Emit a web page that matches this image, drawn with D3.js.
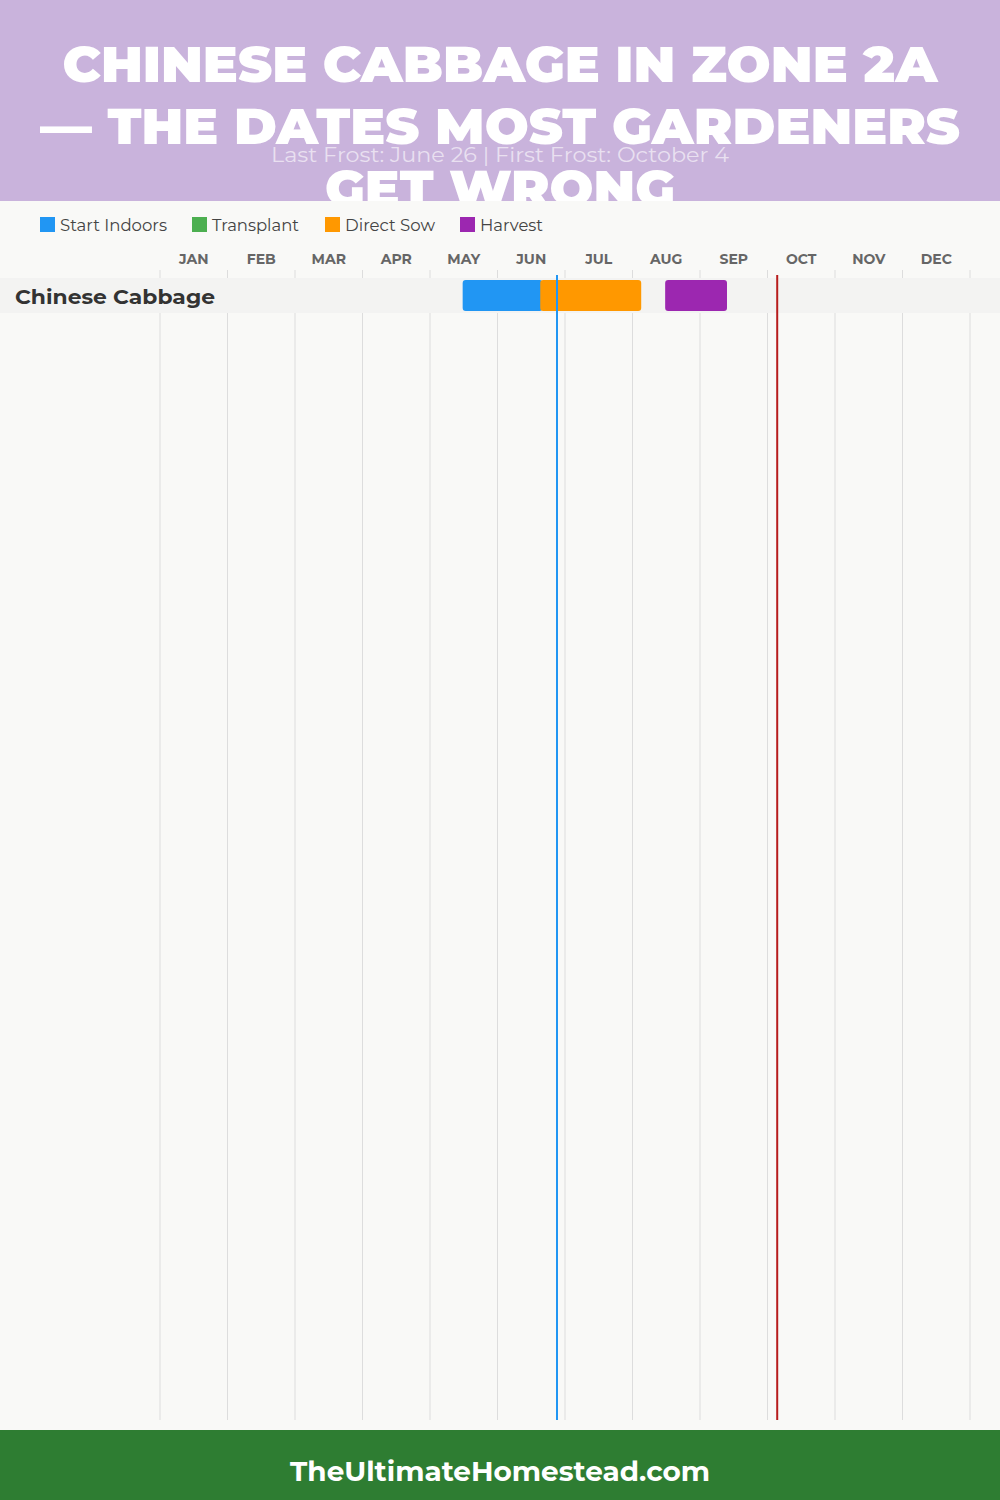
<!DOCTYPE html>
<html><head><meta charset="utf-8">
<script src="https://cdn.jsdelivr.net/npm/d3@7"></script>
<style>html,body{margin:0;padding:0;background:#f9f9f7}svg{display:block}</style>
</head><body><svg id="c" width="1000" height="1500"></svg>
<script>
const titleLines = ["CHINESE CABBAGE IN ZONE 2A", "— THE DATES MOST GARDENERS", "GET WRONG"];
const subtitle = "Last Frost: June 26 | First Frost: October 4";
const months = ["JAN","FEB","MAR","APR","MAY","JUN","JUL","AUG","SEP","OCT","NOV","DEC"];
const daysInMonth = [31,28,31,30,31,30,31,31,30,31,30,31];
const crops = ["Chinese Cabbage"];
const legendItems = ["Start Indoors","Transplant","Direct Sow","Harvest"];
const legendColors = ["#2196F3","#4CAF50","#FF9800","#9C27B0"];
// [crop, phase, start [month,day], end [month,day]]
const tasks = [
  ["Chinese Cabbage","Start Indoors",[5,15],[6,20]],
  ["Chinese Cabbage","Direct Sow",[6,19],[8,4]],
  ["Chinese Cabbage","Harvest",[8,15],[9,12]]
];
const lastFrost = [6,26];
const firstFrost = [10,4];
const footer = "TheUltimateHomestead.com";

const svg = d3.select("#c");
const W = 1000, H = 1500;
const toM = d => (d[0]-1) + d[1]/daysInMonth[d[0]-1];
const x = d3.scaleLinear().domain([0,12]).range([160,970]);
const y = d3.scaleBand().domain(crops).range([278,313]);
const color = d3.scaleOrdinal().domain(legendItems).range(legendColors);
const font = "Montserrat, 'DejaVu Sans', sans-serif";

svg.append("rect").attr("width",W).attr("height",H).attr("fill","#f9f9f7");

// header
const header = svg.append("g");
header.append("rect").attr("width",W).attr("height",201).attr("fill","#C9B3DC");
const tl = [[82,875],[144,920],[206,350]];
header.selectAll("text.t").data(titleLines).join("text").attr("class","t")
  .attr("x",500).attr("y",(d,i)=>tl[i][0]).attr("text-anchor","middle")
  .attr("font-family",font).attr("font-weight",900).attr("font-size",50)
  .attr("fill","#fff").attr("textLength",(d,i)=>tl[i][1]).attr("lengthAdjust","spacingAndGlyphs")
  .text(d=>d);
header.append("text").attr("x",500).attr("y",162).attr("text-anchor","middle")
  .attr("font-family",font).attr("font-size",20).attr("fill","#fff").attr("fill-opacity",0.6)
  .attr("textLength",458).attr("lengthAdjust","spacingAndGlyphs").text(subtitle);

// chart area background (covers title overflow)
svg.append("rect").attr("y",201).attr("width",W).attr("height",1229).attr("fill","#f9f9f7");

// legend
const legX = [40,192,325,460], legW=[107,87,90,63];
const lg = svg.append("g").selectAll("g").data(legendItems).join("g")
  .attr("transform",(d,i)=>`translate(${legX[i]},217)`);
lg.append("rect").attr("width",15).attr("height",15).attr("fill",d=>color(d));
lg.append("text").attr("x",20).attr("y",13.5).attr("font-family",font).attr("font-size",16)
  .attr("fill","#444").attr("textLength",(d,i)=>legW[i]).attr("lengthAdjust","spacingAndGlyphs").text(d=>d);

// grid lines
svg.append("g").selectAll("line").data(d3.range(13)).join("line")
  .attr("x1",d=>x(d)).attr("x2",d=>x(d)).attr("y1",270).attr("y2",1420)
  .attr("stroke","#ddd").attr("stroke-width",1);

// month labels
svg.append("g").selectAll("text").data(months).join("text")
  .attr("x",(d,i)=>x(i+0.5)).attr("y",264).attr("text-anchor","middle")
  .attr("font-family",font).attr("font-weight",700).attr("font-size",14).attr("fill","#666")
  .text(d=>d);

// row band
svg.append("g").selectAll("rect").data(crops).join("rect")
  .attr("x",0).attr("width",W).attr("y",d=>y(d)).attr("height",y.bandwidth()).attr("fill","#f3f3f2");
svg.append("g").selectAll("text").data(crops).join("text")
  .attr("x",15).attr("y",d=>y(d)+y.bandwidth()/2+8).attr("font-family",font).attr("font-weight",700)
  .attr("font-size",20).attr("fill","#333").attr("textLength",200).attr("lengthAdjust","spacingAndGlyphs").text(d=>d);

// bars
svg.append("g").selectAll("rect").data(tasks).join("rect")
  .attr("x",d=>x(toM(d[2]))).attr("width",d=>x(toM(d[3]))-x(toM(d[2])))
  .attr("y",d=>y(d[0])+2).attr("height",y.bandwidth()-4).attr("rx",3)
  .attr("fill",d=>color(d[1]));

// frost lines
svg.append("line").attr("x1",x(toM(lastFrost))+1).attr("x2",x(toM(lastFrost))+1)
  .attr("y1",275).attr("y2",1420).attr("stroke","#2196F3").attr("stroke-width",2);
svg.append("line").attr("x1",x(toM(firstFrost))+1).attr("x2",x(toM(firstFrost))+1)
  .attr("y1",275).attr("y2",1420).attr("stroke","#B71C1C").attr("stroke-width",2);

// footer
svg.append("rect").attr("y",1430).attr("width",W).attr("height",70).attr("fill","#2E7D32");
svg.append("text").attr("x",500).attr("y",1481).attr("text-anchor","middle")
  .attr("font-family",font).attr("font-weight",700).attr("font-size",28).attr("fill","#fff")
  .attr("textLength",420).attr("lengthAdjust","spacingAndGlyphs").text(footer);
</script></body></html>
